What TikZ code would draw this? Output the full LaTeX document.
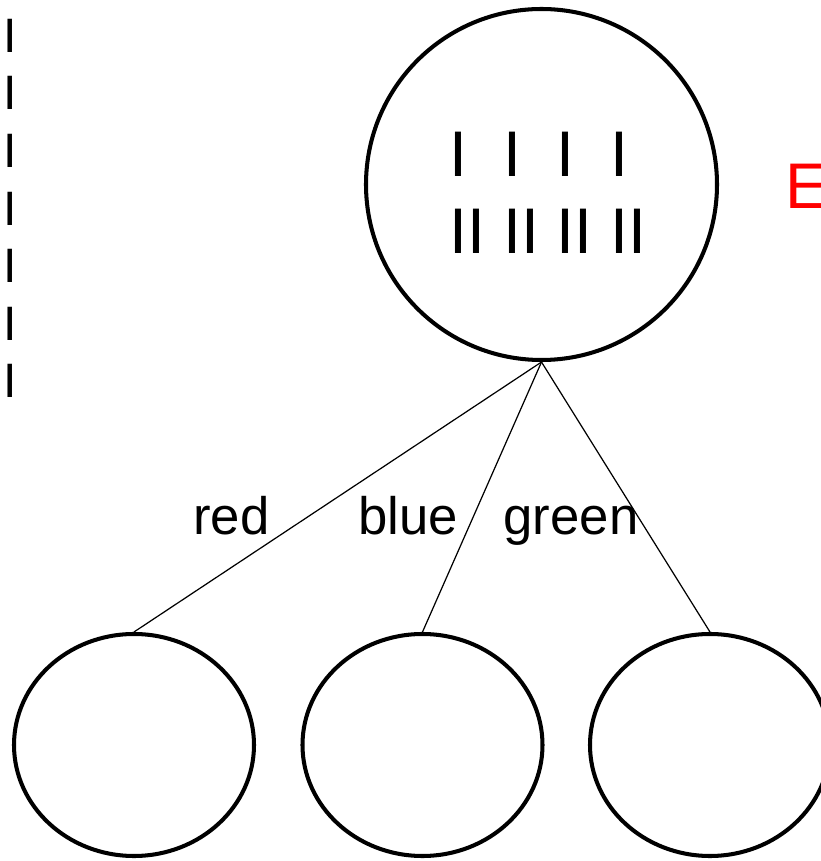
\documentclass[tikz,border=0pt]{standalone}
\usepackage{fontspec}
\setmainfont{Liberation Sans}
\usepackage{xcolor}
\usepackage{tikz}
\usetikzlibrary{positioning}
\usetikzlibrary{arrows,shapes}

\tikzset{
  rootnode/.style={draw, circle, line width=2.3pt, minimum size=7.02cm, inner sep=0pt},
  leaf/.style={draw, ellipse, line width=2.3pt, minimum width=4.8cm, minimum height=4.44cm, inner sep=0pt},
  branch/.style={line width=0.7pt},
  bigtext/.style={font=\fontsize{36.7}{44}\selectfont, inner sep=0pt, anchor=base west},
  tally/.style={font=\fontsize{27.5}{33}\selectfont, inner sep=0pt, anchor=base},
  branchlabel/.style={font=\fontsize{30}{36}\selectfont, inner sep=0pt, anchor=base}
}

\begin{document}
\begin{tikzpicture}
\useasboundingbox (0,0) rectangle (16.42,17.22);

\node[tally] (t1) at (0.21,16.16) {I};
\node[tally] (t2) at (0.21,15.02) {I};
\node[tally] (t3) at (0.21,13.86) {I};
\node[tally] (t4) at (0.21,12.70) {I};
\node[tally] (t5) at (0.21,11.56) {I};
\node[tally] (t6) at (0.21,10.40) {I};
\node[tally] (t7) at (0.21,9.26) {I};

\node[rootnode] (root) at (10.83,13.53) {};
\node[bigtext] (rowone) at (8.98,13.68) {I\ \ I\ \ I\ \ I};
\node[bigtext] (rowtwo) at (8.98,12.14) {II II II II};

\node[bigtext, text=red] (elabel) at (15.71,13.04) {E};

\node[leaf] (redleaf) at (2.68,2.32) {};
\node[leaf] (blueleaf) at (8.45,2.32) {};
\node[leaf] (greenleaf) at (14.2,2.32) {};

\draw[branch] (root.south) -- (redleaf.north);
\draw[branch] (root.south) -- (blueleaf.north);
\draw[branch] (root.south) -- (greenleaf.north);

\node[branchlabel] (redlabel) at (4.63,6.52) {red};
\node[branchlabel] (bluelabel) at (8.16,6.52) {blue};
\node[branchlabel] (greenlabel) at (11.42,6.52) {green};
\end{tikzpicture}
\end{document}
